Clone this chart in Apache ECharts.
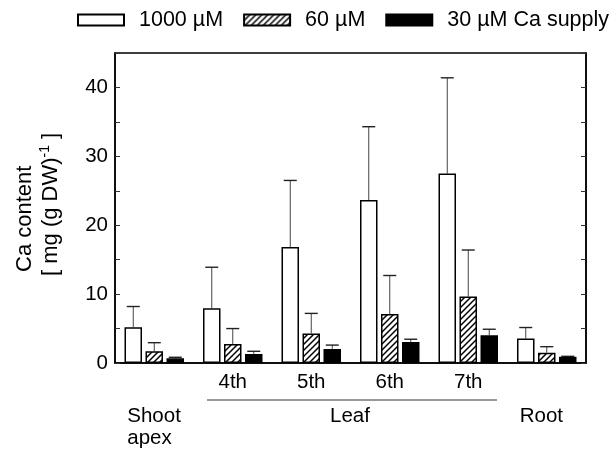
<!DOCTYPE html>
<html>
<head>
<meta charset="utf-8">
<script src="https://cdn.jsdelivr.net/npm/echarts@6/dist/echarts.min.js"></script>
<style>
  html, body { margin: 0; padding: 0; background: #fff; }
  #main { width: 616px; height: 453px; }
</style>
</head>
<body>
<div id="main"></div>
<script>
// 部位
var categories = ['Shoot apex', '4th', '5th', '6th', '7th', 'Root']
var groupLabels = ['Shoot\napex', '', '', '', '', 'Root']
var seriesNames = ['1000 µM', '60 µM', '30 µM Ca supply']
// 平均值
var high = [5.2, 7.95, 16.85, 23.65, 27.5, 3.55]
var mid = [1.7, 2.75, 4.3, 7.1, 9.65, 1.5]
var low = [0.68, 1.3, 2.05, 3.05, 4.03, 0.92]
// 误差 (只画上方)
var highErr = [3.0, 5.95, 9.65, 10.65, 13.9, 1.6]
var midErr = [1.25, 2.25, 2.9, 5.6, 6.75, 0.87]
var lowErr = [0.15, 0.4, 0.55, 0.4, 0.87, 0.05]
var yTicks = [0, 10, 20, 30, 40]

var FONT = 'Liberation Sans, Arial, sans-serif'
var barW = 17.5
var gapW = 3.5

// 斜线填充
function hatch() {
  var c = document.createElement('canvas')
  c.width = 6; c.height = 6
  var ctx = c.getContext('2d')
  ctx.fillStyle = '#fff'
  ctx.fillRect(0, 0, 6, 6)
  ctx.strokeStyle = '#000'
  ctx.lineWidth = 1.5
  ctx.beginPath()
  ctx.moveTo(-1, 7); ctx.lineTo(7, -1)
  ctx.moveTo(-1, 1); ctx.lineTo(1, -1)
  ctx.moveTo(5, 7); ctx.lineTo(7, 5)
  ctx.stroke()
  return c
}

var fills = ['#fff', { image: hatch(), repeat: 'repeat' }, '#000']
var means = [high, mid, low]
var errs = [highErr, midErr, lowErr]

function errSeries(k) {
  var offset = (k - 1) * (barW + gapW)
  return {
    type: 'custom',
    silent: true,
    z: 1,
    data: means[k].map(function (v, i) { return [i, v, v + errs[k][i]] }),
    renderItem: function (params, api) {
      var p0 = api.coord([api.value(0), api.value(1)])
      var p1 = api.coord([api.value(0), api.value(2)])
      var x = p0[0] + offset
      return {
        type: 'group',
        children: [{
          type: 'line',
          shape: { x1: x, y1: p0[1], x2: x, y2: p1[1] },
          style: { stroke: '#444', lineWidth: 1 }
        }, {
          type: 'line',
          shape: { x1: x - 6.5, y1: p1[1], x2: x + 6.5, y2: p1[1] },
          style: { stroke: '#222', lineWidth: 1.4 }
        }]
      }
    }
  }
}

var series = []
for (var k = 0; k < 3; k++) {
  series.push({
    name: seriesNames[k],
    type: 'bar',
    data: means[k],
    barWidth: barW,
    barGap: '20%',
    z: 3,
    itemStyle: { color: fills[k], borderColor: '#000', borderWidth: 1.5 }
  })
}
for (var k = 0; k < 3; k++) series.push(errSeries(k))

var chart = echarts.init(document.getElementById('main'))
var option = {
  animation: false,
  backgroundColor: '#fff',
  textStyle: { fontFamily: FONT },
  legend: {
    data: seriesNames,
    left: 72,
    top: 4,
    itemWidth: 46,
    itemHeight: 11,
    itemGap: 20,
    icon: 'rect',
    textStyle: { fontSize: 21.5, color: '#000', padding: [0, 0, 0, 10], fontFamily: FONT }
  },
  grid: {
    left: 115, right: 30, top: 53, bottom: 90,
    show: true, borderColor: '#000', borderWidth: 1.5
  },
  xAxis: [{
    type: 'category',
    data: categories,
    axisLine: { lineStyle: { color: '#000', width: 1.5 } },
    axisTick: { show: false },
    axisLabel: {
      margin: 9, fontSize: 20.5, color: '#000', fontFamily: FONT,
      formatter: function (v) { return (v === 'Shoot apex' || v === 'Root') ? '' : v }
    }
  }, {
    type: 'category',
    data: groupLabels,
    position: 'bottom',
    offset: 32,
    axisLine: { show: false },
    axisTick: { show: false },
    axisLabel: {
      margin: 10, fontSize: 20.5, color: '#000', fontFamily: FONT, lineHeight: 22,
      interval: 0,
      formatter: function (v) {
        if (!v) return ''
        return v.split('\n').map(function (s) { return '{g|' + s + '}' }).join('\n')
      },
      rich: { g: { width: 54, align: 'left', fontSize: 20.5, lineHeight: 22, fontFamily: FONT } }
    }
  }],
  yAxis: [{
    type: 'value',
    min: 0, max: 45, interval: 5,
    axisLine: { show: true, lineStyle: { color: '#000', width: 1.5 } },
    axisTick: { show: true, inside: true, length: 5, lineStyle: { color: '#333' } },
    splitLine: { show: false },
    axisLabel: {
      margin: 7, fontSize: 20.5, color: '#000', fontFamily: FONT,
      formatter: function (v) { return yTicks.indexOf(v) >= 0 ? v : '' }
    }
  }, {
    type: 'value',
    position: 'right',
    min: 0, max: 45, interval: 5,
    axisLine: { show: true, lineStyle: { color: '#000', width: 1.5 } },
    axisTick: { show: true, inside: true, length: 5, lineStyle: { color: '#333' } },
    splitLine: { show: false },
    axisLabel: { show: false }
  }],
  graphic: [{
    type: 'text',
    x: 25, y: 272, rotation: Math.PI / 2,
    style: { text: 'Ca content', font: '22px ' + FONT, fill: '#000', align: 'left', verticalAlign: 'middle' }
  }, {
    type: 'text',
    x: 51, y: 276, rotation: Math.PI / 2,
    style: {
      text: '[ mg (g DW){s|-1} ]', font: '22px ' + FONT, fill: '#000', align: 'left', verticalAlign: 'middle',
      rich: { s: { fontSize: 14, fontFamily: FONT, verticalAlign: 'top', padding: [0, 0, 12, 0] } }
    }
  }, {
    type: 'line',
    shape: { x1: 207, y1: 400, x2: 497, y2: 400 },
    style: { stroke: '#333', lineWidth: 1 }
  }, {
    type: 'text',
    x: 350, y: 416,
    style: { text: 'Leaf', font: '20.5px ' + FONT, fill: '#000', align: 'center', verticalAlign: 'middle' }
  }],
  series: series
}
chart.setOption(option)
</script>
</body>
</html>
